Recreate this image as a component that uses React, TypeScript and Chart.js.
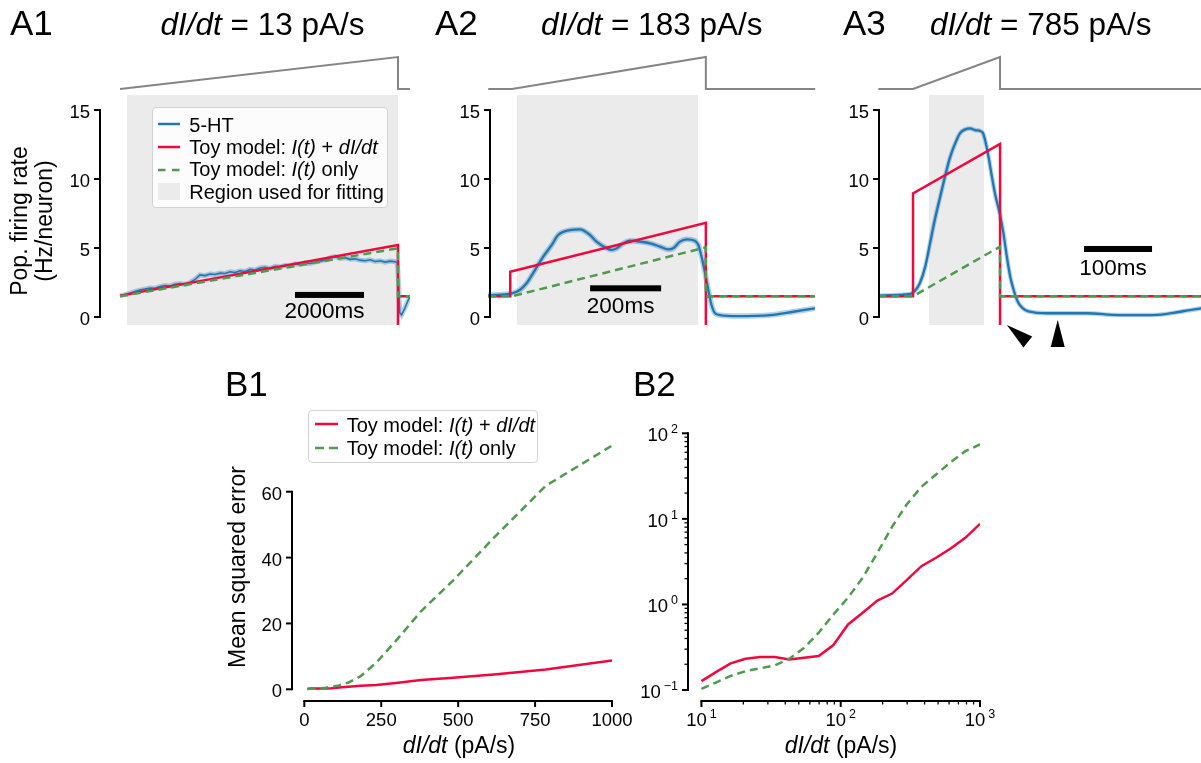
import React, { useEffect, useRef } from 'react';
import { Chart, registerables } from 'chart.js';

Chart.register(...registerables);

const FONT = '"Liberation Sans", Arial, Helvetica, sans-serif';
const RED = '#f2073d';
const GREEN = '#4f9a4f';
const BLUE = '#1f77b4';
const BAND = 'rgba(31,119,180,0.33)';
const FIT_GRAY = '#ebebeb';
const STIM_GRAY = '#858585';

// ================= DATA =================
// Panels A: population firing rate (Hz/neuron) vs time (ms, 0 = ramp onset)
const aRateTicks = [0, 5, 10, 15];

// A1: dI/dt = 13 pA/s
const a1Time = [0, 145, 290, 435, 580, 725, 870, 1015, 1160, 1305, 1450, 1595, 1740, 1885, 2030, 2175, 2320, 2465, 2610, 2755, 2900, 3045, 3190, 3335, 3480, 3625, 3770, 3915, 4060, 4205, 4350, 4495, 4640, 4785, 4930, 5075, 5220, 5365, 5510, 5655, 5800, 5945, 6090, 6235, 6380, 6525, 6670, 6815, 6960, 7105, 7250, 7395, 7540, 7685, 7830, 7975, 8040, 8075, 8110, 8160, 8250, 8350, 8406];
const a1Rate = [1.55, 1.62, 1.72, 1.85, 1.95, 2.02, 2.1, 2.08, 2.2, 2.28, 2.25, 2.38, 2.42, 2.36, 2.5, 2.72, 3.05, 3.0, 3.12, 3.08, 3.18, 3.15, 3.28, 3.22, 3.35, 3.3, 3.45, 3.4, 3.55, 3.6, 3.52, 3.68, 3.62, 3.75, 3.7, 3.85, 3.8, 3.92, 3.88, 3.98, 4.05, 4.12, 4.3, 4.38, 4.25, 4.3, 4.18, 4.22, 4.12, 4.08, 4.15, 4.02, 4.08, 3.98, 4.05, 4.0, 3.95, 2.5, 0.3, 0.15, 0.6, 1.2, 1.45];
const a1ToyFullTime = [0, 8058, 8058, 8058, 8406];
const a1ToyFullRate = [1.55, 5.22, -5, 1.5, 1.5];
const a1ToyOnlyTime = [0, 8058, 8058, 8406];
const a1ToyOnlyRate = [1.5, 4.98, 1.5, 1.5];
const a1StimTime = [0, 8058, 8058, 8406];
const a1StimCurrent = [0, 100, 0, 0];
const a1FitWindow = [203, 8058];

// A2: dI/dt = 183 pA/s
const a2Time = [-67, -1, 22, 41, 65, 88, 112, 130, 163, 191, 220, 238, 262, 281, 295, 314, 332, 361, 389, 417, 440, 454, 473, 492, 515, 525, 534, 544, 553, 562, 572, 586, 633, 727, 792, 854];
const a2Rate = [1.59, 1.71, 1.96, 2.44, 3.41, 4.37, 5.22, 5.94, 6.3, 6.35, 5.94, 5.46, 5.05, 4.86, 4.98, 5.34, 5.53, 5.46, 5.34, 5.1, 4.9, 4.98, 5.46, 5.63, 5.53, 5.22, 4.37, 3.17, 1.96, 0.87, 0.27, 0.14, 0.07, 0.14, 0.38, 0.63];
const a2ToyFullTime = [-67, -5, -5, 546, 546, 546, 854];
const a2ToyFullRate = [1.5, 1.5, 3.28, 6.83, -5, 1.5, 1.5];
const a2ToyOnlyTime = [-67, 0, 546, 546, 854];
const a2ToyOnlyRate = [1.5, 1.5, 5.05, 1.5, 1.5];
const a2StimTime = [-67, 0, 546, 546, 854];
const a2StimCurrent = [0, 0, 100, 0, 0];
const a2FitWindow = [14, 524];

// A3: dI/dt = 785 pA/s
const a3Time = [-51, -4, 3, 10, 18, 25, 32, 40, 47, 54, 62, 69, 77, 84, 91, 99, 103, 106, 111, 116, 121, 128, 133, 138, 143, 148, 153, 157, 165, 177, 206, 255, 304, 353, 393, 424];
const a3Rate = [1.55, 1.67, 1.91, 2.44, 3.65, 5.34, 7.03, 8.72, 10.17, 11.5, 12.58, 13.31, 13.6, 13.67, 13.55, 13.48, 13.31, 12.83, 11.62, 10.17, 8.84, 7.39, 6.06, 4.37, 2.92, 1.96, 1.23, 0.87, 0.51, 0.34, 0.27, 0.27, 0.14, 0.14, 0.38, 0.63];
const a3ToyFullTime = [-51, 0, 0, 128, 128, 128, 424];
const a3ToyFullRate = [1.5, 1.5, 8.96, 12.54, -5, 1.5, 1.5];
const a3ToyOnlyTime = [-51, 0, 128, 128, 424];
const a3ToyOnlyRate = [1.5, 1.5, 5.1, 1.5, 1.5];
const a3StimTime = [-51, 0, 128, 128, 424];
const a3StimCurrent = [0, 0, 100, 0, 0];
const a3FitWindow = [23.5, 104.4];

// Panels B: mean squared error vs ramp slope dI/dt (pA/s)
const bSlopes = [10, 12.7, 16.2, 20.7, 26.4, 33.6, 42.8, 54.6, 69.5, 88.6, 112.9, 143.8, 183.3, 233.6, 297.6, 379.3, 483.3, 615.8, 784.8, 1000];
const bMseFull = [0.127, 0.162, 0.205, 0.232, 0.243, 0.243, 0.228, 0.238, 0.249, 0.335, 0.584, 0.799, 1.11, 1.34, 1.92, 2.8, 3.51, 4.51, 6.01, 8.75];
const bMseOnly = [0.103, 0.122, 0.146, 0.166, 0.179, 0.194, 0.232, 0.312, 0.467, 0.764, 1.2, 2.05, 4.01, 8.08, 14.7, 23.7, 33.0, 46.0, 61.8, 74.0];
const b1YTicks = [0, 20, 40, 60];
const b1XTicks = [0, 250, 500, 750, 1000];
const b2YTicks = [0.1, 1, 10, 100];
const b2YMinor = [0.2, 0.3, 0.4, 0.5, 0.6, 0.7, 0.8, 0.9, 2, 3, 4, 5, 6, 7, 8, 9, 20, 30, 40, 50, 60, 70, 80, 90];
const b2XTicks = [10, 100, 1000];
const b2XMinor = [20, 30, 40, 50, 60, 70, 80, 90, 200, 300, 400, 500, 600, 700, 800, 900];

// ================= LAYOUT / HELPERS =================
const W = 1201;
const H = 763;
const A_Y_MIN = -0.58;
const A_Y_MAX = 16.09;

type Area = { l: number; r: number; t: number; b: number };
type AxisDef = { spine: [number, number]; major: number[]; minor?: number[]; fmt: (v: number) => string };

const pts = (xs: number[], ys: number[]) => xs.map((x, i) => ({ x, y: ys[i] }));
const linFmt = (v: number) => String(v);
const logFmt = (v: number) => {
  const e = Math.round(Math.log10(v));
  return '10^' + (e < 0 ? '\u2212' + Math.abs(e) : String(e));
};

function drawTickLabel(ctx: CanvasRenderingContext2D, text: string, x: number, y: number, align: 'center' | 'right') {
  ctx.textBaseline = 'alphabetic';
  const m = text.match(/^10\^(.+)$/);
  if (!m) {
    ctx.font = `18.5px ${FONT}`;
    ctx.textAlign = align;
    ctx.fillText(text, x, y);
    return;
  }
  ctx.font = `18.5px ${FONT}`;
  const wb = ctx.measureText('10').width;
  ctx.font = `12.5px ${FONT}`;
  const we = ctx.measureText(m[1]).width;
  const gap = 3;
  const total = wb + gap + we;
  const x0 = align === 'center' ? x - total / 2 : x - total;
  ctx.textAlign = 'left';
  ctx.font = `18.5px ${FONT}`;
  ctx.fillText('10', x0, y);
  ctx.font = `12.5px ${FONT}`;
  ctx.fillText(m[1], x0 + wb + gap, y - 8);
}

function axesPlugin(yAx: AxisDef, xAx?: AxisDef) {
  return {
    id: 'spines',
    afterDraw(chart: any) {
      const ctx: CanvasRenderingContext2D = chart.ctx;
      const ca = chart.chartArea;
      const xs = chart.scales.x;
      const ys = chart.scales.y;
      ctx.save();
      ctx.strokeStyle = '#000';
      ctx.fillStyle = '#000';
      ctx.lineCap = 'butt';
      ctx.lineWidth = 2;
      const x0 = ca.left;
      const p0 = ys.getPixelForValue(yAx.spine[0]);
      const p1 = ys.getPixelForValue(yAx.spine[1]);
      ctx.beginPath();
      ctx.moveTo(x0, p0 + 1);
      ctx.lineTo(x0, p1 - 1);
      ctx.stroke();
      for (const v of yAx.major) {
        const y = ys.getPixelForValue(v);
        ctx.lineWidth = 2;
        ctx.beginPath();
        ctx.moveTo(x0 - 6, y);
        ctx.lineTo(x0, y);
        ctx.stroke();
        drawTickLabel(ctx, yAx.fmt(v), x0 - 10, y + 8, 'right');
      }
      ctx.lineWidth = 1.3;
      for (const v of yAx.minor || []) {
        const y = ys.getPixelForValue(v);
        ctx.beginPath();
        ctx.moveTo(x0 - 3.5, y);
        ctx.lineTo(x0, y);
        ctx.stroke();
      }
      if (xAx) {
        const y0 = ca.bottom;
        const q0 = xs.getPixelForValue(xAx.spine[0]);
        const q1 = xs.getPixelForValue(xAx.spine[1]);
        ctx.lineWidth = 2;
        ctx.beginPath();
        ctx.moveTo(q0 - 1, y0);
        ctx.lineTo(q1 + 1, y0);
        ctx.stroke();
        for (const v of xAx.major) {
          const x = xs.getPixelForValue(v);
          ctx.lineWidth = 2;
          ctx.beginPath();
          ctx.moveTo(x, y0);
          ctx.lineTo(x, y0 + 6);
          ctx.stroke();
          drawTickLabel(ctx, xAx.fmt(v), x, y0 + 25, 'center');
        }
        ctx.lineWidth = 1.3;
        for (const v of xAx.minor || []) {
          const x = xs.getPixelForValue(v);
          ctx.beginPath();
          ctx.moveTo(x, y0);
          ctx.lineTo(x, y0 + 3.5);
          ctx.stroke();
        }
      }
      ctx.restore();
    },
  };
}

type Bar = { t0: number; len: number; v: number; label: string; labelV: number };
type Arrow = { t: number; v: number; dir: number };

function decorPlugin(bar: Bar, arrows: Arrow[]) {
  return {
    id: 'decor',
    afterDraw(chart: any) {
      const ctx: CanvasRenderingContext2D = chart.ctx;
      const xs = chart.scales.x;
      const ys = chart.scales.y;
      ctx.save();
      ctx.fillStyle = '#000';
      const xa = xs.getPixelForValue(bar.t0);
      const xb = xs.getPixelForValue(bar.t0 + bar.len);
      const yb = ys.getPixelForValue(bar.v);
      ctx.fillRect(xa, yb - 3, xb - xa, 6);
      ctx.font = `22.5px ${FONT}`;
      ctx.textAlign = 'center';
      ctx.textBaseline = 'alphabetic';
      ctx.fillText(bar.label, (xa + xb) / 2 - 5, ys.getPixelForValue(bar.labelV));
      for (const a of arrows) {
        const px = xs.getPixelForValue(a.t);
        const py = ys.getPixelForValue(a.v);
        const ang = (a.dir * Math.PI) / 180;
        const L = 27;
        const hw = 7;
        const bx = px - L * Math.cos(ang);
        const by = py - L * Math.sin(ang);
        const nx = -Math.sin(ang);
        const ny = Math.cos(ang);
        ctx.beginPath();
        ctx.moveTo(px, py);
        ctx.lineTo(bx + nx * hw, by + ny * hw);
        ctx.lineTo(bx - nx * hw, by - ny * hw);
        ctx.closePath();
        ctx.fill();
      }
      ctx.restore();
    },
  };
}

function baseOptions(area: Area, scales: any) {
  return {
    responsive: false,
    animation: false,
    devicePixelRatio: 1,
    events: [],
    layout: { padding: { left: area.l, top: area.t, right: W - area.r, bottom: H - area.b } },
    plugins: { legend: { display: false }, tooltip: { enabled: false }, title: { display: false } },
    elements: { point: { radius: 0 }, line: { tension: 0, borderCapStyle: 'butt', borderJoinStyle: 'miter' } },
    scales,
  };
}

const CLIP = { left: 3, top: 0, right: 0, bottom: 0 };

type APanel = {
  area: Area; xMin: number; xMax: number;
  time: number[]; rate: number[]; bandW: number; smooth: boolean;
  fullT: number[]; fullV: number[]; onlyT: number[]; onlyV: number[];
  stimT: number[]; stimI: number[]; fit: number[]; bar: Bar; arrows: Arrow[];
};

function configA(p: APanel): any {
  return {
    type: 'line',
    data: {
      datasets: [
        { data: pts(p.fit, [A_Y_MAX, A_Y_MAX]), fill: 'start', backgroundColor: FIT_GRAY, borderWidth: 0, order: 10 },
        { data: pts(p.stimT, p.stimI), yAxisID: 's', borderColor: STIM_GRAY, borderWidth: 2, clip: false, order: 9, fill: false },
        { data: pts(p.time, p.rate), borderColor: BAND, borderWidth: p.bandW, order: 6, fill: false, clip: CLIP, cubicInterpolationMode: p.smooth ? 'monotone' : 'default' },
        { data: pts(p.time, p.rate), borderColor: BLUE, borderWidth: p.smooth ? 2.3 : 1.6, order: 5, fill: false, clip: CLIP, cubicInterpolationMode: p.smooth ? 'monotone' : 'default' },
        { data: pts(p.fullT, p.fullV), borderColor: RED, borderWidth: 2.5, order: 3, fill: false, clip: CLIP },
        { data: pts(p.onlyT, p.onlyV), borderColor: GREEN, borderWidth: 2.5, borderDash: [8, 5], order: 2, fill: false, clip: CLIP },
      ],
    },
    options: baseOptions(p.area, {
      x: { type: 'linear', display: false, min: p.xMin, max: p.xMax },
      y: { type: 'linear', display: false, min: A_Y_MIN, max: A_Y_MAX },
      s: { type: 'linear', display: false, min: -737.5, max: -18.75 },
    }),
    plugins: [
      axesPlugin({ spine: [0, 15], major: aRateTicks, fmt: linFmt }),
      decorPlugin(p.bar, p.arrows),
    ],
  };
}

function configB(area: Area, xScale: any, yScale: any, yAx: AxisDef, xAx: AxisDef): any {
  return {
    type: 'line',
    data: {
      datasets: [
        { data: pts(bSlopes, bMseFull), borderColor: RED, borderWidth: 2.5, order: 3, fill: false },
        { data: pts(bSlopes, bMseOnly), borderColor: GREEN, borderWidth: 2.5, borderDash: [8, 5], order: 2, fill: false },
      ],
    },
    options: baseOptions(area, { x: xScale, y: yScale }),
    plugins: [axesPlugin(yAx, xAx)],
  };
}

// ================= TEXT HELPERS =================
function T(props: { x: number; y: number; size: number; align?: 'left' | 'center' | 'right'; children: any }) {
  const { x, y, size, align = 'left', children } = props;
  const tx = align === 'center' ? 'translateX(-50%)' : align === 'right' ? 'translateX(-100%)' : 'none';
  return (
    <div
      style={{
        position: 'absolute', left: x, top: y - 0.8465 * size, fontSize: size, lineHeight: 1,
        whiteSpace: 'nowrap', fontFamily: FONT, color: '#000', transform: tx,
      }}
    >
      {children}
    </div>
  );
}

function VText(props: { cx: number; cy: number; size: number; lh: number; children: any }) {
  return (
    <div
      style={{
        position: 'absolute', left: props.cx, top: props.cy, transform: 'translate(-50%,-50%) rotate(-90deg)',
        fontSize: props.size, lineHeight: props.lh + 'px', textAlign: 'center', whiteSpace: 'nowrap',
        fontFamily: FONT, color: '#000',
      }}
    >
      {props.children}
    </div>
  );
}

type Row = { kind: 'line' | 'dash' | 'patch'; color: string; text: any; cy: number; base: number };

function Legend(props: { box: { l: number; t: number; w: number; h: number }; sx1: number; sx2: number; tx: number; dash: string; rows: Row[] }) {
  const { box, sx1, sx2, tx, rows, dash } = props;
  return (
    <>
      <div
        style={{
          position: 'absolute', left: box.l, top: box.t, width: box.w, height: box.h, boxSizing: 'border-box',
          background: 'rgba(255,255,255,0.82)', border: '1.5px solid #d2d2d2', borderRadius: 4,
        }}
      />
      {rows.map((r, i) => (
        <React.Fragment key={i}>
          {r.kind === 'patch' ? (
            <div style={{ position: 'absolute', left: sx1, top: r.cy - 8.5, width: sx2 - sx1, height: 17, background: FIT_GRAY }} />
          ) : (
            <svg style={{ position: 'absolute', left: sx1, top: r.cy - 4, overflow: 'visible' }} width={sx2 - sx1} height={8}>
              <line x1={0} y1={4} x2={sx2 - sx1} y2={4} stroke={r.color} strokeWidth={2.5} strokeDasharray={r.kind === 'dash' ? dash : undefined} />
            </svg>
          )}
          <T x={tx} y={r.base} size={20}>{r.text}</T>
        </React.Fragment>
      ))}
    </>
  );
}

const Title = (n: string) => (
  <>
    <i>dI/dt</i> = {n} pA/s
  </>
);

export default function App() {
  const r1 = useRef<HTMLCanvasElement>(null);
  const r2 = useRef<HTMLCanvasElement>(null);
  const r3 = useRef<HTMLCanvasElement>(null);
  const r4 = useRef<HTMLCanvasElement>(null);
  const r5 = useRef<HTMLCanvasElement>(null);

  useEffect(() => {
    const charts: Chart[] = [];
    charts.push(new Chart(r1.current as HTMLCanvasElement, configA({
      area: { l: 100, r: 410, t: 95, b: 325 }, xMin: -580, xMax: 8406,
      time: a1Time, rate: a1Rate, bandW: 5, smooth: false,
      fullT: a1ToyFullTime, fullV: a1ToyFullRate, onlyT: a1ToyOnlyTime, onlyV: a1ToyOnlyRate,
      stimT: a1StimTime, stimI: a1StimCurrent, fit: a1FitWindow,
      bar: { t0: 5072, len: 2000, v: 1.6, label: '2000ms', labelV: -0.09 }, arrows: [],
    })));
    charts.push(new Chart(r2.current as HTMLCanvasElement, configA({
      area: { l: 490, r: 815, t: 95, b: 325 }, xMin: -62, xMax: 853.5,
      time: a2Time, rate: a2Rate, bandW: 5.5, smooth: true,
      fullT: a2ToyFullTime, fullV: a2ToyFullRate, onlyT: a2ToyOnlyTime, onlyV: a2ToyOnlyRate,
      stimT: a2StimTime, stimI: a2StimCurrent, fit: a2FitWindow,
      bar: { t0: 220, len: 200, v: 2.08, label: '200ms', labelV: 0.31 }, arrows: [],
    })));
    charts.push(new Chart(r3.current as HTMLCanvasElement, configA({
      area: { l: 879, r: 1201, t: 95, b: 325 }, xMin: -50, xMax: 423.5,
      time: a3Time, rate: a3Rate, bandW: 4.5, smooth: true,
      fullT: a3ToyFullTime, fullV: a3ToyFullRate, onlyT: a3ToyOnlyTime, onlyV: a3ToyOnlyRate,
      stimT: a3StimTime, stimI: a3StimCurrent, fit: a3FitWindow,
      bar: { t0: 251.5, len: 100, v: 4.93, label: '100ms', labelV: 3.04 },
      arrows: [{ t: 138, v: -0.58, dir: -141 }, { t: 212.8, v: -0.22, dir: -90 }],
    })));
    charts.push(new Chart(r4.current as HTMLCanvasElement, configB(
      { l: 292, r: 612, t: 400, b: 701 },
      { type: 'linear', display: false, min: -40, max: 1000 },
      { type: 'linear', display: false, min: -3.55, max: 87.85 },
      { spine: [0, 60], major: b1YTicks, fmt: linFmt },
      { spine: [0, 1000], major: b1XTicks, fmt: linFmt },
    )));
    charts.push(new Chart(r5.current as HTMLCanvasElement, configB(
      { l: 688, r: 980, t: 400, b: 701 },
      { type: 'logarithmic', display: false, min: 8.01, max: 1000 },
      { type: 'logarithmic', display: false, min: 0.0744, max: 244.9 },
      { spine: [0.1, 100], major: b2YTicks, minor: b2YMinor, fmt: logFmt },
      { spine: [10, 1000], major: b2XTicks, minor: b2XMinor, fmt: logFmt },
    )));
    return () => charts.forEach((c) => c.destroy());
  }, []);

  const refs = [r1, r2, r3, r4, r5];
  const aRows: Row[] = [
    { kind: 'line', color: BLUE, text: '5-HT', cy: 123.5, base: 131.5 },
    { kind: 'line', color: RED, text: <>Toy model: <i>I(t)</i> + <i>dI/dt</i></>, cy: 146.5, base: 153.8 },
    { kind: 'dash', color: GREEN, text: <>Toy model: <i>I(t)</i> only</>, cy: 169.5, base: 176 },
    { kind: 'patch', color: FIT_GRAY, text: 'Region used for fitting', cy: 191.7, base: 198.5 },
  ];
  const bRows: Row[] = [
    { kind: 'line', color: RED, text: <>Toy model: <i>I(t)</i> + <i>dI/dt</i></>, cy: 423.5, base: 431.5 },
    { kind: 'dash', color: GREEN, text: <>Toy model: <i>I(t)</i> only</>, cy: 447.5, base: 454.5 },
  ];

  return (
    <div style={{ position: 'absolute', left: 0, top: 0, width: W, height: H, background: '#fff', overflow: 'hidden', fontFamily: FONT }}>
      {refs.map((r, i) => (
        <canvas key={i} ref={r} width={W} height={H} style={{ position: 'absolute', left: 0, top: 0 }} />
      ))}

      <T x={10} y={35} size={35}>A1</T>
      <T x={435} y={35} size={35}>A2</T>
      <T x={843} y={35} size={35}>A3</T>
      <T x={225} y={396} size={35}>B1</T>
      <T x={633} y={396} size={35}>B2</T>

      <T x={262.5} y={36} size={31.5} align="center">{Title('13')}</T>
      <T x={651.7} y={36} size={31.5} align="center">{Title('183')}</T>
      <T x={1040.8} y={36} size={31.5} align="center">{Title('785')}</T>

      <VText cx={31} cy={221} size={23} lh={24.5}>Pop. firing rate<br />(Hz/neuron)</VText>
      <VText cx={236.5} cy={567} size={23} lh={23}>Mean squared error</VText>

      <T x={459} y={753.5} size={23} align="center"><i>dI/dt</i> (pA/s)</T>
      <T x={841} y={753.5} size={23} align="center"><i>dI/dt</i> (pA/s)</T>

      <Legend box={{ l: 151.7, t: 106.7, w: 236.6, h: 101.6 }} sx1={158} sx2={180} tx={189.3} dash="7.5 6.5" rows={aRows} />
      <Legend box={{ l: 308.3, t: 410, w: 230, h: 53.3 }} sx1={315} sx2={338} tx={346.7} dash="9 5" rows={bRows} />
    </div>
  );
}
